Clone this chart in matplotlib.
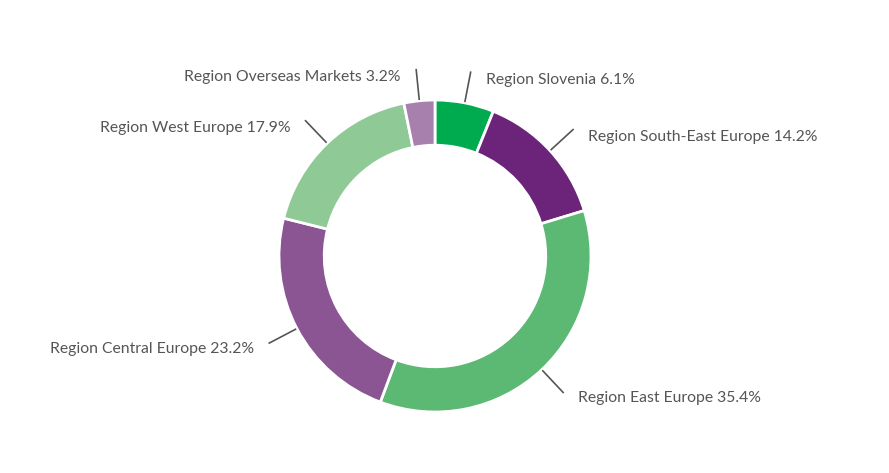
import numpy as np
import matplotlib
matplotlib.use("Agg")
import matplotlib.pyplot as plt

# --- Data ---
regions = ["Region Slovenia", "Region South-East Europe", "Region East Europe",
           "Region Central Europe", "Region West Europe", "Region Overseas Markets"]
shares = [6.1, 14.2, 35.4, 23.2, 17.9, 3.2]
colors = ["#00aa4f", "#6b247a", "#5cb974", "#8b5594", "#8fca96", "#a880ad"]

plt.rcParams['font.family'] = ['Lato', 'DejaVu Sans']

fig = plt.figure(figsize=(8.89, 4.73), dpi=100)
ax = fig.add_axes([0, 0, 1, 1])

wedges, _ = ax.pie(shares, colors=colors, startangle=90, counterclock=False,
                   radius=1.0, center=(0, 0),
                   wedgeprops=dict(width=0.29, edgecolor="white", linewidth=2))

# leader lines and labels
for w, name, val in zip(wedges, regions, shares):
    ang = np.deg2rad((w.theta1 + w.theta2) / 2)
    c, s = np.cos(ang), np.sin(ang)
    ax.plot([1.01 * c, 1.2 * c], [1.01 * s, 1.2 * s], color="#555555", lw=1.2)
    right = c >= 0
    ax.annotate(f"{name} {val}%", xy=(1.2 * c, 1.2 * s),
                xytext=(11 if right else -11, -5.5 if s > 0 else -4),
                textcoords="offset points", fontsize=11.3, color="#555555",
                ha="left" if right else "right", va="center")

ax.set_xlim(-2.788, 2.910)
ax.set_ylim(-1.391, 1.641)
ax.set_aspect("equal")
ax.axis("off")

fig.savefig("out.png", dpi=100)
